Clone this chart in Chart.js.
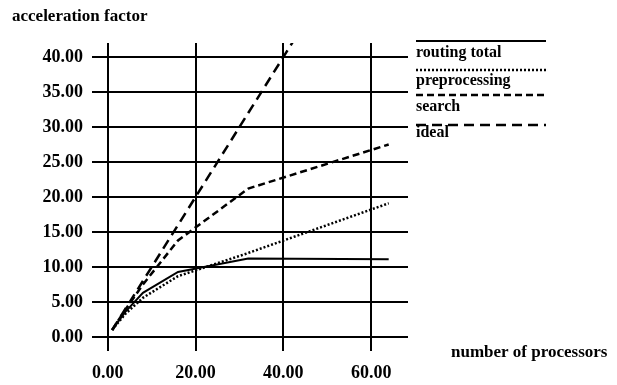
<!DOCTYPE html>
<html>
<head>
<meta charset="utf-8">
<script src="https://cdn.jsdelivr.net/npm/chart.js@4"></script>
<style>
  html, body { margin: 0; padding: 0; background: #fff; }
  #wrap { width: 617px; height: 385px; position: relative; }
</style>
</head>
<body>
<div id="wrap"><canvas id="speedupChart" width="617" height="385"></canvas></div>
<script>
// Data
const processors = [1, 2, 4, 8, 16, 32, 64];
const routingTotal = [1, 1.9, 3.6, 6.3, 9.3, 11.2, 11.1];
const preprocessing = [1, 1.8, 3.3, 5.6, 8.7, 12.0, 19.1];
const search = [1, 2, 3.9, 7.5, 13.8, 21.2, 27.5];
const ideal = [1, 2, 4, 8, 16, 32, 64];

const xTicks = [0, 20, 40, 60];
const yTicks = [0, 5, 10, 15, 20, 25, 30, 35, 40];

const seriesNames = ['routing total', 'preprocessing', 'search', 'ideal'];
const yTitle = 'acceleration factor';
const xTitle = 'number of processors';

const serif = '"Liberation Serif", "DejaVu Serif", serif';

function toPoints(ys) {
  return processors.map((x, i) => ({ x: x, y: ys[i] }));
}

// Draws the axis titles and the legend (line sample above each name)
const extrasPlugin = {
  id: 'extras',
  afterDraw(chart) {
    const c = chart.ctx;
    c.save();
    c.fillStyle = '#000';
    c.font = 'bold 17px ' + serif;
    c.textBaseline = 'middle';
    c.textAlign = 'left';
    c.fillText(yTitle, 12, 17);
    c.fillText(xTitle, 451, 353);

    const lineY = [41, 70, 95, 125];
    const textBase = [57, 85, 111, 137];
    c.textBaseline = 'alphabetic';
    chart.data.datasets.forEach((ds, i) => {
      c.strokeStyle = '#000';
      c.lineWidth = ds.borderWidth;
      c.setLineDash(ds.borderDash || []);
      c.beginPath();
      c.moveTo(416, lineY[i]);
      c.lineTo(546, lineY[i]);
      c.stroke();
      c.setLineDash([]);
      c.font = 'bold 16px ' + serif;
      c.fillText(ds.label, 416, textBase[i]);
    });
    c.restore();
  }
};

const ctx = document.getElementById('speedupChart').getContext('2d');
const speedupChart = new Chart(ctx, {
  type: 'line',
  data: {
    datasets: [
      { label: seriesNames[0], data: toPoints(routingTotal), borderDash: [], borderWidth: 2 },
      { label: seriesNames[1], data: toPoints(preprocessing), borderDash: [2, 2], borderWidth: 2.5 },
      { label: seriesNames[2], data: toPoints(search), borderDash: [7, 4], borderWidth: 2.5 },
      { label: seriesNames[3], data: toPoints(ideal), borderDash: [10, 6], borderWidth: 2.5 }
    ].map(ds => Object.assign(ds, {
      borderColor: '#000',
      pointRadius: 0,
      fill: false,
      tension: 0
    }))
  },
  options: {
    responsive: false,
    animation: false,
    layout: { padding: { left: 0, top: 43, right: 209, bottom: 0 } },
    plugins: {
      legend: { display: false },
      tooltip: { enabled: false }
    },
    scales: {
      x: {
        type: 'linear',
        min: -3.6,
        max: 68.4,
        afterBuildTicks: scale => { scale.ticks = xTicks.map(v => ({ value: v })); },
        afterFit: scale => { scale.height = 34; },
        border: { display: false },
        grid: { color: '#000', lineWidth: 2, drawTicks: false },
        ticks: {
          color: '#000',
          padding: 12,
          maxRotation: 0,
          font: { family: serif, size: 18, weight: 'bold' },
          callback: v => v.toFixed(2)
        }
      },
      y: {
        min: -2,
        max: 42,
        afterBuildTicks: scale => { scale.ticks = yTicks.map(v => ({ value: v })); },
        afterFit: scale => { scale.width = 92; },
        border: { display: false },
        grid: { color: '#000', lineWidth: 2, drawTicks: false },
        ticks: {
          color: '#000',
          padding: 9,
          font: { family: serif, size: 18, weight: 'bold' },
          callback: v => v.toFixed(2)
        }
      }
    }
  },
  plugins: [extrasPlugin]
});
</script>
</body>
</html>
